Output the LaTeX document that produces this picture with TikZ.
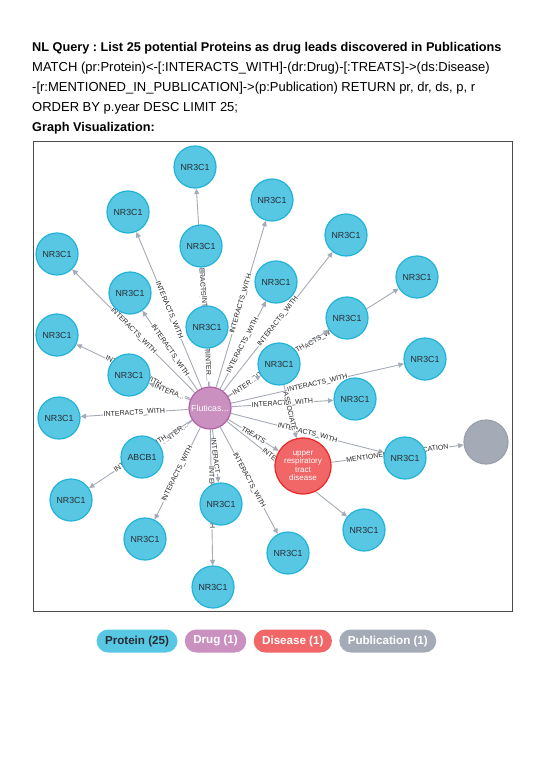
\documentclass[tikz,border=0pt]{standalone}
\usepackage{fontspec}
\setmainfont{Liberation Sans}
\usetikzlibrary{arrows.meta,positioning,backgrounds}
\definecolor{protfill}{HTML}{57C7E3}
\definecolor{protline}{HTML}{23B3D7}
\definecolor{drugfill}{HTML}{C990C0}
\definecolor{drugline}{HTML}{B261A5}
\definecolor{disfill}{HTML}{F16667}
\definecolor{disline}{HTML}{EB2728}
\definecolor{pubfill}{HTML}{A5ABB6}
\definecolor{publine}{HTML}{9AA1AC}
\definecolor{nodetext}{HTML}{2A2C34}
\definecolor{edgegray}{HTML}{A5ABB6}
\frenchspacing
\begin{document}
\begin{tikzpicture}[x=1pt,y=-1pt,>=Stealth,
  prot/.style={circle,draw=protline,fill=protfill,line width=1.2pt,minimum size=42pt,inner sep=0pt,font=\fontsize{8.8}{9}\selectfont,text=nodetext},
  drug/.style={prot,draw=drugline,fill=drugfill,text=white},
  dis/.style={prot,draw=disline,fill=disfill,text=white,minimum size=56pt,align=center,font=\fontsize{8}{8.4}\selectfont},
  pub/.style={prot,draw=publine,fill=pubfill,minimum size=44pt},
  edge/.style={draw=edgegray,line width=0.9pt,-{Triangle[length=5.5pt,width=5pt]}},
  lbl/.style={sloped,fill=white,inner sep=0.6pt,font=\fontsize{7}{7.5}\selectfont,text=black!85},
  pill/.style={rounded corners=11.5pt,minimum height=23pt,inner xsep=8.5pt,font=\fontsize{11.6}{12}\selectfont\bfseries,text=white},
  head/.style={anchor=base west,inner sep=0pt,font=\fontsize{13}{14}\selectfont}]
  \useasboundingbox (0,0) rectangle (543,767);
  % header
  \node[head,font=\fontsize{12.7}{14}\selectfont\bfseries] (title) at (32,52) {NL Query : List 25 potential Proteins as drug leads discovered in Publications};
  \node[head] (q1) at (32,72) {MATCH (pr:Protein)<-[:INTERACTS\_WITH]-(dr:Drug)-[:TREATS]->(ds:Disease)};
  \node[head] (q2) at (32,92) {-[r:MENTIONED\_IN\_PUBLICATION]->(p:Publication) RETURN pr, dr, ds, p, r};
  \node[head] (q3) at (32,112) {ORDER BY p.year DESC LIMIT 25;};
  \node[head,font=\fontsize{12.7}{14}\selectfont\bfseries] (gv) at (32,132) {Graph Visualization:};
  \draw[black!70,line width=1pt] (33,142) rectangle (512,611);
  % nodes
  \node[drug] (drug) at (210,408) {Fluticas...};
  \node[dis] (dis) at (303,466) {upper\\respiratory\\tract\\disease};
  \node[pub] (pub) at (486,442) {};
  \node[prot] (p1) at (195,167) {NR3C1};
  \node[prot] (p2) at (128,212) {NR3C1};
  \node[prot] (p3) at (57,254) {NR3C1};
  \node[prot] (p4) at (201,246) {NR3C1};
  \node[prot] (p5) at (130,293) {NR3C1};
  \node[prot] (p6) at (57,335) {NR3C1};
  \node[prot] (p7) at (207,327) {NR3C1};
  \node[prot] (p8) at (129,375) {NR3C1};
  \node[prot] (p9) at (272,200) {NR3C1};
  \node[prot] (p10) at (346,235) {NR3C1};
  \node[prot] (p11) at (276,282) {NR3C1};
  \node[prot] (p12) at (417,277) {NR3C1};
  \node[prot] (p13) at (347,318) {NR3C1};
  \node[prot] (p14) at (279,364) {NR3C1};
  \node[prot] (p15) at (425,359) {NR3C1};
  \node[prot] (p16) at (355,399) {NR3C1};
  \node[prot] (p17) at (59,418) {NR3C1};
  \node[prot] (abcb) at (142,457) {ABCB1};
  \node[prot] (p18) at (71,500) {NR3C1};
  \node[prot] (p19) at (221,504) {NR3C1};
  \node[prot] (p20) at (145,539) {NR3C1};
  \node[prot] (p21) at (213,587) {NR3C1};
  \node[prot] (p22) at (405,458) {NR3C1};
  \node[prot] (p23) at (364,530) {NR3C1};
  \node[prot] (p24) at (288,553) {NR3C1};
  % relationships, under the nodes
  \begin{scope}[on background layer]
    \fill[white] (0,0) rectangle (543,767);
    \draw[edge] (drug) -- node[lbl] {INTERACTS\_WITH} (p1);
    \draw[edge] (drug) -- node[lbl] {INTERACTS\_WITH} (p2);
    \draw[edge] (drug) -- node[lbl] {INTERACTS\_WITH} (p3);
    \draw[edge] (drug) -- node[lbl] {INTERACTS\_WITH} (p4);
    \draw[edge] (drug) -- node[lbl] {INTERACTS\_WITH} (p5);
    \draw[edge] (drug) -- node[lbl] {INTERACTS\_WITH} (p6);
    \draw[edge] (drug) -- node[lbl] {INTER...} (p7);
    \draw[edge] (drug) -- node[lbl] {INTERA...} (p8);
    \draw[edge] (drug) -- node[lbl] {INTERACTS\_WITH} (p9);
    \draw[edge] (drug) -- node[lbl] {INTERACTS\_WITH} (p10);
    \draw[edge] (drug) -- node[lbl] {INTERACTS\_WITH} (p11);
    \draw[edge] (drug) -- node[lbl] {INTERACTS\_WITH} (p12);
    \draw[edge] (drug) -- node[lbl] {INTERACTS\_WITH} (p13);
    \draw[edge] (drug) -- node[lbl] {INTER...} (p14);
    \draw[edge] (drug) -- node[lbl] {INTERACTS\_WITH} (p15);
    \draw[edge] (drug) -- node[lbl] {INTERACTS\_WITH} (p16);
    \draw[edge] (drug) -- node[lbl] {INTERACTS\_WITH} (p17);
    \draw[edge] (drug) -- node[lbl] {INTER...} (abcb);
    \draw[edge] (drug) -- node[lbl] {INTERACTS\_WITH} (p18);
    \draw[edge] (drug) -- node[lbl] {INTERACT} (p19);
    \draw[edge] (drug) -- node[lbl] {INTERACTS\_WITH} (p20);
    \draw[edge] (drug) -- node[lbl] {INTERACTS\_WITH} (p21);
    \draw[edge] (drug) -- node[lbl] {INTERACTS\_WITH} (p22);
    \draw[edge] (drug) -- node[lbl] {INTERACTS\_WITH} (p23);
    \draw[edge] (drug) -- node[lbl] {INTERACTS\_WITH} (p24);
    \draw[edge] (drug) -- node[lbl] {TREATS} (dis);
    \draw[edge] (p14) -- node[lbl] {ASSOCIATE} (dis);
    \draw[edge] (dis) -- node[lbl] {MENTIONED\_IN\_PUBLICATION} (pub);
  \end{scope}
  % legend
  \node[pill,fill=protfill,text=nodetext] (lprot) at (137,641) {Protein (25)};
  \node[pill,fill=drugfill,right=7pt of lprot] (ldrug) {Drug (1)};
  \node[pill,fill=disfill,right=7pt of ldrug] (ldis) {Disease (1)};
  \node[pill,fill=pubfill,right=7pt of ldis] (lpub) {Publication (1)};
\end{tikzpicture}
\end{document}
